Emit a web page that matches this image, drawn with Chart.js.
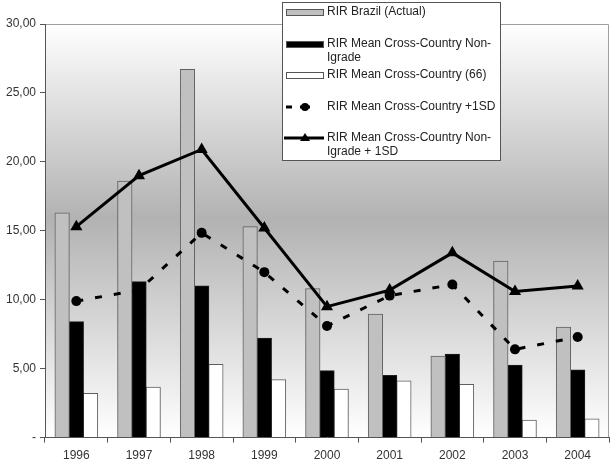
<!DOCTYPE html>
<html>
<head>
<meta charset="utf-8">
<script src="https://cdn.jsdelivr.net/npm/chart.js@4.4.1/dist/chart.umd.min.js"></script>
<style>
  html, body { margin: 0; padding: 0; background: #fff; }
  #wrap { width: 616px; height: 470px; position: relative; }
</style>
</head>
<body>
<div id="wrap"><canvas id="chart" width="616" height="470"></canvas></div>
<script>
// values
var years = ["1996", "1997", "1998", "1999", "2000", "2001", "2002", "2003", "2004"];
var brazilActual = [16.3, 18.6, 26.7, 15.3, 10.8, 8.95, 5.9, 12.8, 8.0];
var meanNonIgrade = [8.4, 11.3, 11.0, 7.2, 4.85, 4.5, 6.05, 5.25, 4.9];
var mean66 = [3.2, 3.65, 5.3, 4.2, 3.5, 4.1, 3.85, 1.25, 1.35];
var meanPlus1SD = [9.9, 10.7, 14.85, 12.0, 8.1, 10.3, 11.1, 6.4, 7.3];
var nonIgradePlus1SD = [15.3, 19.0, 20.9, 15.2, 9.5, 10.7, 13.4, 10.6, 11.0];
var yTicks = [0, 5, 10, 15, 20, 25, 30];

var FONT = "'Liberation Sans', Arial, sans-serif";

// gradient plot background + frame
var plotBg = {
    id: 'plotBg',
    beforeDraw: function(chart) {
        var a = chart.chartArea, ctx = chart.ctx;
        var g = ctx.createLinearGradient(0, a.top, 0, a.bottom);
        g.addColorStop(0, '#ffffff');
        g.addColorStop(0.47, '#b2b2b2');
        g.addColorStop(1, '#ffffff');
        ctx.save();
        ctx.fillStyle = g;
        ctx.fillRect(a.left, a.top, a.right - a.left, a.bottom - a.top);
        ctx.strokeStyle = '#a0a0a0';
        ctx.lineWidth = 1;
        ctx.beginPath();
        ctx.moveTo(a.left, a.top + 0.5);
        ctx.lineTo(a.right - 0.5, a.top + 0.5);
        ctx.lineTo(a.right - 0.5, a.bottom);
        ctx.stroke();
        ctx.restore();
    }
};

// legend box drawn over the plot, like the original
var boxLegend = {
    id: 'boxLegend',
    afterDraw: function(chart) {
        var ctx = chart.ctx;
        var x0 = 282, y0 = 2, w = 218, h = 158;
        ctx.save();
        ctx.fillStyle = '#ffffff';
        ctx.fillRect(x0, y0, w, h);
        ctx.strokeStyle = '#555';
        ctx.lineWidth = 1;
        ctx.strokeRect(x0 + 0.5, y0 + 0.5, w, h);
        ctx.font = '12px ' + FONT;
        ctx.fillStyle = '#222';
        ctx.textBaseline = 'middle';
        var items = [
            { kind: 'bar', fill: '#c0c0c0', y: 12, lines: ['RIR Brazil (Actual)'] },
            { kind: 'bar', fill: '#000000', y: 44, lines: ['RIR Mean Cross-Country Non-', 'Igrade'] },
            { kind: 'bar', fill: '#ffffff', y: 75, lines: ['RIR Mean Cross-Country (66)'] },
            { kind: 'dash', y: 107, lines: ['RIR Mean Cross-Country +1SD'] },
            { kind: 'line', y: 138, lines: ['RIR Mean Cross-Country Non-', 'Igrade + 1SD'] }
        ];
        items.forEach(function(it) {
            var sx = 286, sw = 38;
            if (it.kind === 'bar') {
                ctx.fillStyle = it.fill;
                ctx.fillRect(sx, it.y - 3, sw, 7);
                ctx.strokeStyle = '#555';
                ctx.strokeRect(sx + 0.5, it.y - 2.5, sw - 1, 6);
            } else if (it.kind === 'dash') {
                ctx.fillStyle = '#000';
                ctx.fillRect(sx, it.y - 1.5, 6, 3);
                ctx.fillRect(sx + 14, it.y - 1.5, 10, 3);
                ctx.beginPath();
                ctx.arc(sx + 19, it.y, 4, 0, Math.PI * 2);
                ctx.fill();
            } else {
                ctx.fillStyle = '#000';
                ctx.fillRect(sx - 2, it.y - 1.5, sw + 2, 3);
                ctx.beginPath();
                ctx.moveTo(sx + 19, it.y - 5);
                ctx.lineTo(sx + 24, it.y + 3);
                ctx.lineTo(sx + 14, it.y + 3);
                ctx.closePath();
                ctx.fill();
            }
            ctx.fillStyle = '#222';
            it.lines.forEach(function(t, i) {
                ctx.fillText(t, 327, it.y + i * 14);
            });
        });
        ctx.restore();
    }
};

new Chart(document.getElementById("chart"), {
    type: 'bar',
    data: {
        labels: years,
        datasets: [
            {
                type: 'line',
                label: "RIR Mean Cross-Country Non-Igrade + 1SD",
                data: nonIgradePlus1SD,
                borderColor: '#000',
                backgroundColor: '#000',
                borderWidth: 3,
                pointStyle: 'triangle',
                pointRadius: 7,
                pointBorderWidth: 0,
                tension: 0,
                order: 0
            },
            {
                type: 'line',
                label: "RIR Mean Cross-Country +1SD",
                data: meanPlus1SD,
                borderColor: '#000',
                backgroundColor: '#000',
                borderWidth: 3,
                borderDash: [7, 12],
                pointStyle: 'circle',
                pointRadius: 5,
                pointBorderWidth: 0,
                tension: 0,
                order: 1
            },
            {
                label: "RIR Brazil (Actual)",
                data: brazilActual,
                backgroundColor: '#c0c0c0',
                borderColor: '#606060',
                borderWidth: 1,
                order: 2
            },
            {
                label: "RIR Mean Cross-Country Non-Igrade",
                data: meanNonIgrade,
                backgroundColor: '#000000',
                borderColor: '#202020',
                borderWidth: 1,
                order: 3
            },
            {
                label: "RIR Mean Cross-Country (66)",
                data: mean66,
                backgroundColor: '#ffffff',
                borderColor: '#606060',
                borderWidth: 1,
                order: 4
            }
        ]
    },
    options: {
        responsive: false,
        animation: false,
        layout: { padding: { top: 24, right: 3, left: 0, bottom: 1 } },
        datasets: {
            bar: { categoryPercentage: 0.68, barPercentage: 1.0, inflateAmount: 0.5 }
        },
        plugins: {
            legend: { display: false },
            tooltip: { enabled: false }
        },
        scales: {
            x: {
                offset: true,
                grid: { offset: true, drawOnChartArea: false, tickLength: 5, color: '#555' },
                border: { color: '#555', width: 1 },
                ticks: { color: '#333', font: { family: FONT, size: 12 }, padding: 6 }
            },
            y: {
                min: 0,
                max: 30,
                afterFit: function(scale) { scale.width = 45; },
                afterBuildTicks: function(scale) {
                    scale.ticks = yTicks.map(function(v) { return { value: v }; });
                },
                grid: { drawOnChartArea: false, tickLength: 5, color: '#555' },
                border: { color: '#555', width: 1 },
                ticks: {
                    color: '#333',
                    font: { family: FONT, size: 12 },
                    padding: 4,
                    callback: function(v) {
                        return v === 0 ? '-' : v.toFixed(2).replace('.', ',');
                    }
                }
            }
        }
    },
    plugins: [plotBg, boxLegend]
});
</script>
</body>
</html>
